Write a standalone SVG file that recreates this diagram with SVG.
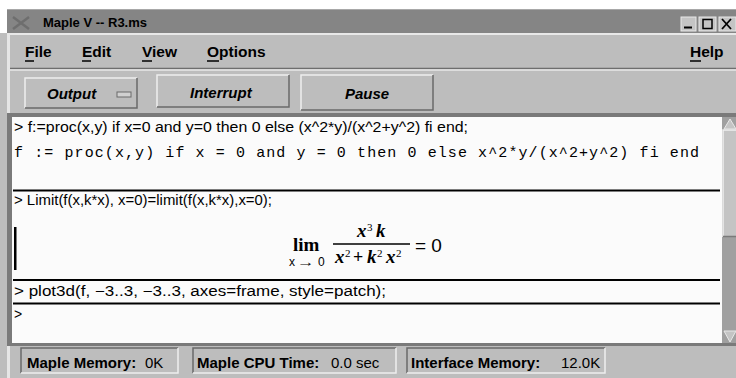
<svg xmlns="http://www.w3.org/2000/svg" width="736" height="378" viewBox="0 0 736 378">
<style>
.ui{font-family:"Liberation Sans",Arial,sans-serif;fill:#000}
.menu{font-family:"Liberation Sans",Arial,sans-serif;font-weight:bold;font-size:15.5px;fill:#000}
.btn{font-family:"Liberation Sans",Arial,sans-serif;font-weight:bold;font-style:italic;font-size:15px;fill:#000}
.inp{font-family:"Liberation Sans",Arial,sans-serif;font-size:14px;fill:#000}
.mono{font-family:"Liberation Mono","Courier New",monospace;font-size:15px;fill:#000}
.ser{font-family:"Liberation Serif","Times New Roman",serif;font-weight:bold;fill:#000}
.bi{font-family:"Liberation Serif","Times New Roman",serif;font-weight:bold;font-style:italic;font-size:19px;fill:#000}
.sup{font-family:"Liberation Serif","Times New Roman",serif;font-size:11px;fill:#000}
.stat{font-family:"Liberation Sans",Arial,sans-serif;font-size:15px;fill:#000}
.hl{stroke:#eeeeee;stroke-width:1.5;fill:none}
.sh{stroke:#6a6a6a;stroke-width:1.5;fill:none}
.sep{stroke:#000;stroke-width:2.2}
</style>
<rect x="0" y="0" width="736" height="378" fill="#ffffff"/>
<g id="window">
  <rect x="0" y="33" width="736" height="345" fill="#bdbdbd"/>
  <rect x="7" y="9" width="729" height="369" fill="#bdbdbd"/>
  <rect x="7" y="33" width="3" height="345" fill="#e6e6e6"/>
</g>
<g id="titlebar">
  <rect x="7" y="9" width="729" height="24" fill="#858585"/>
  <line x1="7" y1="9.5" x2="736" y2="9.5" stroke="#a8a8a8"/>
  <path d="M13 17 L29 29 M13 29 L29 17" stroke="#6e6e6e" stroke-width="2.5"/>
  <text x="43" y="27" class="ui" font-weight="bold" font-size="13">Maple V -- R3.ms</text>
  <g id="winctl">
    <rect x="681" y="17" width="15" height="14" fill="#c4c4c4" stroke="#e8e8e8"/>
    <line x1="684" y1="27.5" x2="692" y2="27.5" stroke="#000" stroke-width="2"/>
    <rect x="699" y="17" width="17" height="14" fill="#c4c4c4" stroke="#e8e8e8"/>
    <rect x="703" y="19.5" width="9" height="9" fill="none" stroke="#000" stroke-width="1.5"/>
    <rect x="719" y="17" width="17" height="14" fill="#c4c4c4" stroke="#e8e8e8"/>
    <path d="M722 19 L731 29 M722 29 L731 19" stroke="#000" stroke-width="1.8"/>
  </g>
</g>
<g id="menubar">
  <line x1="10" y1="34" x2="736" y2="34" stroke="#e8e8e8" stroke-width="2"/>
  <line x1="10" y1="68.5" x2="736" y2="68.5" stroke="#6e6e6e" stroke-width="1.5"/>
  <text x="25" y="57" class="menu">File</text>
  <line x1="25" y1="61" x2="34" y2="61" stroke="#000" stroke-width="1.5"/>
  <text x="82" y="57" class="menu">Edit</text>
  <line x1="82" y1="61" x2="91" y2="61" stroke="#000" stroke-width="1.5"/>
  <text x="142" y="57" class="menu">View</text>
  <line x1="142" y1="61" x2="152" y2="61" stroke="#000" stroke-width="1.5"/>
  <text x="207" y="57" class="menu">Options</text>
  <line x1="207" y1="61" x2="219" y2="61" stroke="#000" stroke-width="1.5"/>
  <text x="690" y="57" class="menu">Help</text>
  <line x1="690" y1="61" x2="701" y2="61" stroke="#000" stroke-width="1.5"/>
</g>
<g id="toolbar">
  <line x1="10" y1="70" x2="736" y2="70" stroke="#e8e8e8" stroke-width="1.5"/>
  <g id="btn-output">
    <rect x="25" y="78" width="112" height="30" fill="#bdbdbd"/>
    <path d="M25 108 L25 78 L137 78" class="hl"/>
    <path d="M25 108 L137 108 L137 78" class="sh"/>
    <text x="47" y="99" class="btn">Output</text>
    <rect x="117" y="92" width="14" height="5" fill="#d0d0d0" stroke="#6a6a6a" stroke-width="1"/>
  </g>
  <g id="btn-interrupt">
    <rect x="157" y="75" width="132" height="32" fill="#bdbdbd"/>
    <path d="M157 107 L157 75 L289 75" class="hl"/>
    <path d="M157 107 L289 107 L289 75" class="sh"/>
    <text x="190" y="98" class="btn">Interrupt</text>
  </g>
  <g id="btn-pause">
    <rect x="301" y="75" width="132" height="35" fill="#bdbdbd"/>
    <path d="M301 110 L301 75 L433 75" class="hl"/>
    <path d="M301 110 L433 110 L433 75" class="sh"/>
    <text x="345" y="99" class="btn">Pause</text>
  </g>
</g>
<g id="worksheet">
  <rect x="7" y="113" width="729" height="233" fill="#7a7a7a"/>
  <rect x="12" y="117" width="710" height="226" fill="#fbfbfb"/>
  <g id="group1">
    <text x="14" y="132" class="inp" textLength="454" lengthAdjust="spacingAndGlyphs">&gt; f:=proc(x,y) if x=0 and y=0 then 0 else (x^2*y)/(x^2+y^2) fi end;</text>
    <text x="14" y="157" class="mono" textLength="685" lengthAdjust="spacing">f := proc(x,y) if x = 0 and y = 0 then 0 else x^2*y/(x^2+y^2) fi end</text>
  </g>
  <g id="group2">
    <text x="14" y="205" class="inp" textLength="258" lengthAdjust="spacingAndGlyphs">&gt; Limit(f(x,k*x), x=0)=limit(f(x,k*x),x=0);</text>
    <rect x="14" y="227" width="2.5" height="43" fill="#000"/>
    <text x="293" y="251" class="ser" font-size="19">lim</text>
    <text x="289" y="266" class="ui" font-size="12">x</text>
    <text x="297" y="266" class="ui" font-size="12" textLength="18" lengthAdjust="spacingAndGlyphs">→</text>
    <text x="318" y="266" class="ui" font-size="12">0</text>
    <text x="357" y="237" class="bi">x</text>
    <text x="367" y="231" class="sup">3</text>
    <text x="376" y="237" class="bi">k</text>
    <line x1="333" y1="244" x2="410" y2="244" stroke="#000" stroke-width="1.5"/>
    <text x="335" y="263" class="bi">x</text>
    <text x="345" y="257" class="sup">2</text>
    <text x="353" y="263" class="ser" font-size="18" font-weight="normal">+</text>
    <text x="367" y="263" class="bi">k</text>
    <text x="377" y="257" class="sup">2</text>
    <text x="386" y="263" class="bi">x</text>
    <text x="396" y="257" class="sup">2</text>
    <text x="415" y="252" class="ui" font-size="19">= 0</text>
  </g>
  <g id="group3">
    <text x="14" y="296" class="inp" textLength="372" lengthAdjust="spacingAndGlyphs">&gt; plot3d(f, −3..3, −3..3, axes=frame, style=patch);</text>
  </g>
  <g id="group4">
    <text x="14" y="319" class="inp">&gt;</text>
  </g>
  <g id="separators">
    <line x1="13" y1="190.5" x2="720" y2="190.5" class="sep"/>
    <line x1="13" y1="280" x2="720" y2="280" class="sep"/>
    <line x1="13" y1="303.5" x2="720" y2="303.5" class="sep"/>
  </g>
</g>
<g id="scrollbar">
  <rect x="722" y="117" width="14" height="226" fill="#a0a0a0"/>
  <rect x="723" y="130" width="13" height="107" fill="#c4c4c4"/>
  <path d="M723 237 L723 130 L736 130" class="hl"/>
  <line x1="723" y1="236.5" x2="736" y2="236.5" stroke="#7a7a7a" stroke-width="1.5"/>
  <path d="M724 129 L730 119 L736 129 Z" fill="#c4c4c4" stroke="#e8e8e8" stroke-width="1"/>
  <path d="M724 331 L730 342 L736 331 Z" fill="#c4c4c4" stroke="#e8e8e8" stroke-width="1"/>
</g>
<g id="statusbar">
  <g id="stat-mem">
    <rect x="21" y="348" width="157" height="25" fill="#bdbdbd"/>
    <path d="M21 373 L21 348 L178 348" class="sh"/>
    <path d="M21 373 L178 373 L178 348" class="hl"/>
    <text x="27" y="368" class="stat"><tspan font-weight="bold">Maple Memory:</tspan><tspan x="145">0K</tspan></text>
  </g>
  <g id="stat-cpu">
    <rect x="193" y="348" width="203" height="25" fill="#bdbdbd"/>
    <path d="M193 373 L193 348 L396 348" class="sh"/>
    <path d="M193 373 L396 373 L396 348" class="hl"/>
    <text x="197" y="368" class="stat"><tspan font-weight="bold">Maple CPU Time:</tspan><tspan x="331">0.0 sec</tspan></text>
  </g>
  <g id="stat-imem">
    <rect x="407" y="348" width="198" height="25" fill="#bdbdbd"/>
    <path d="M407 373 L407 348 L605 348" class="sh"/>
    <path d="M407 373 L605 373 L605 348" class="hl"/>
    <text x="411" y="368" class="stat"><tspan font-weight="bold">Interface Memory:</tspan><tspan x="561">12.0K</tspan></text>
  </g>
</g>
</svg>
